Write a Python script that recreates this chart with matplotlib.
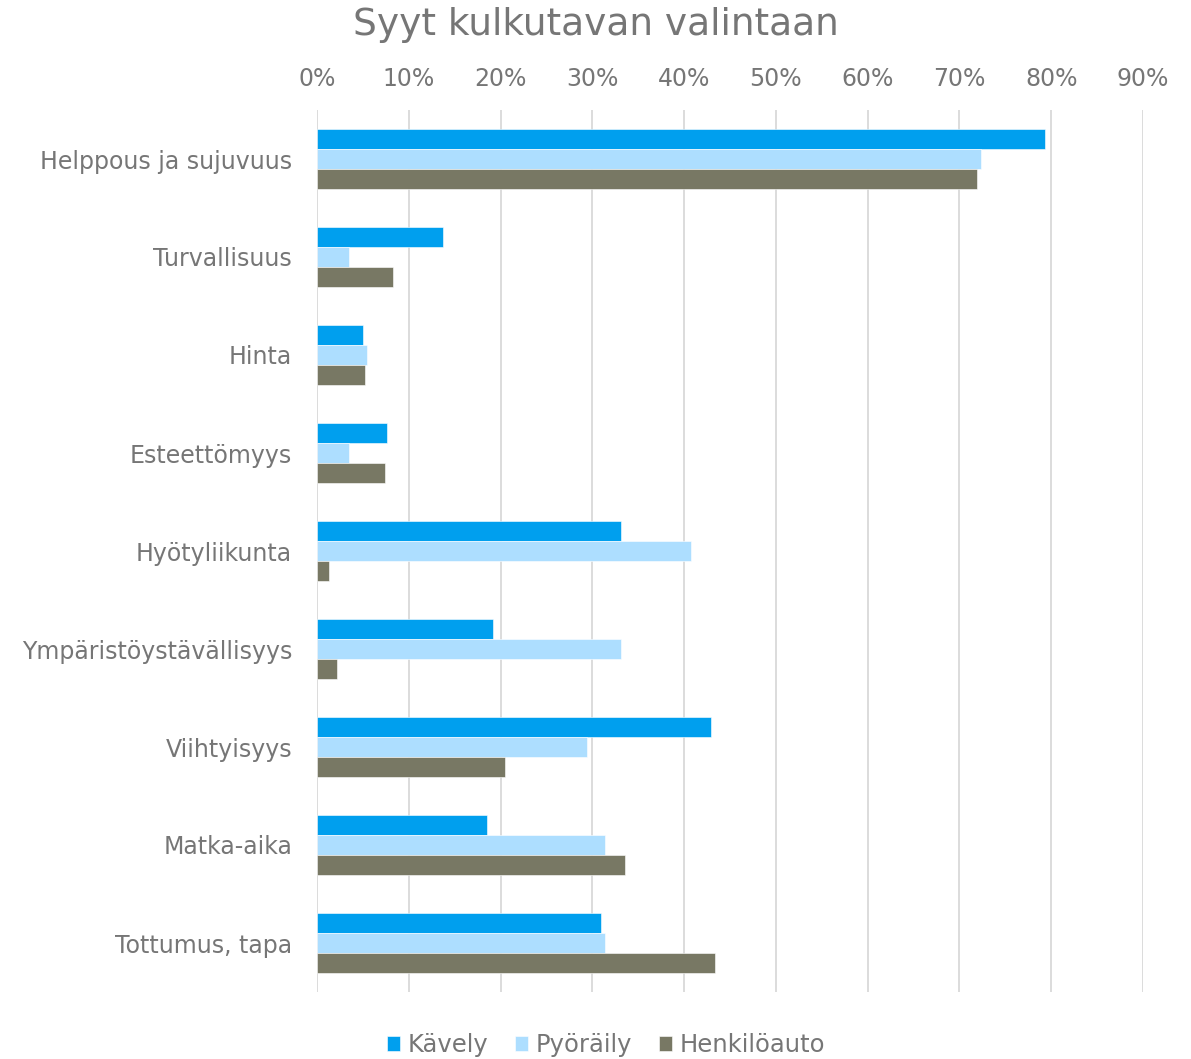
import matplotlib
matplotlib.use("Agg")
import matplotlib.pyplot as plt
import numpy as np

categories = ["Helppous ja sujuvuus", "Turvallisuus", "Hinta", "Esteettömyys",
              "Hyötyliikunta", "Ympäristöystävällisyys", "Viihtyisyys",
              "Matka-aika", "Tottumus, tapa"]
series_names = ["Kävely", "Pyöräily", "Henkilöauto"]
kavely = [79.3, 13.7, 5.0, 7.6, 33.1, 19.2, 42.9, 18.5, 30.9]
pyoraily = [72.3, 3.5, 5.4, 3.5, 40.7, 33.1, 29.4, 31.4, 31.4]
auto = [71.9, 8.3, 5.2, 7.4, 1.3, 2.2, 20.5, 33.6, 43.4]
xticks = [0, 10, 20, 30, 40, 50, 60, 70, 80, 90]

colors = ["#009FEE", "#ADDEFF", "#787864"]
text_color = "#767676"

plt.rcParams['font.family'] = ['DejaVu Sans']

fig = plt.figure(figsize=(11.91, 10.59), dpi=100)
ax = fig.add_axes([317/1191, 1 - 992/1059, (1143-317)/1191, (992-110)/1059])

n = len(categories)
y = np.arange(n)
h = 0.204
for i, (vals, name) in enumerate(zip([kavely, pyoraily, auto], series_names)):
    ax.barh(y + (i - 1) * h, vals, height=h, color=colors[i], label=name,
            edgecolor="white", linewidth=0.4, zorder=3)

ax.set_ylim(n - 0.5, -0.5)
ax.set_xlim(0, 90)
ax.set_xticks(xticks)
ax.set_xticklabels([f"{t}%" for t in xticks])
ax.xaxis.tick_top()
ax.set_yticks(y)
ax.set_yticklabels(categories)
ax.tick_params(axis='both', length=0, colors=text_color, labelsize=17)
ax.tick_params(axis='x', pad=14)
ax.tick_params(axis='y', pad=18)
ax.grid(axis='x', color="#D9D9D9", linewidth=1.3, zorder=0)
for s in ax.spines.values():
    s.set_visible(False)

fig.text(0.5, 1 - 25/1059, "Syyt kulkutavan valintaan", ha='center', va='center',
         fontsize=27, color=text_color)

leg = fig.legend(loc='center', bbox_to_anchor=(606/1191, 1 - 1045/1059), ncol=3,
                 frameon=False, fontsize=17.5, handlelength=0.55, handleheight=0.55,
                 handletextpad=0.3, columnspacing=1.1)
for t in leg.get_texts():
    t.set_color(text_color)

fig.savefig("out.png", dpi=100, facecolor="white")
